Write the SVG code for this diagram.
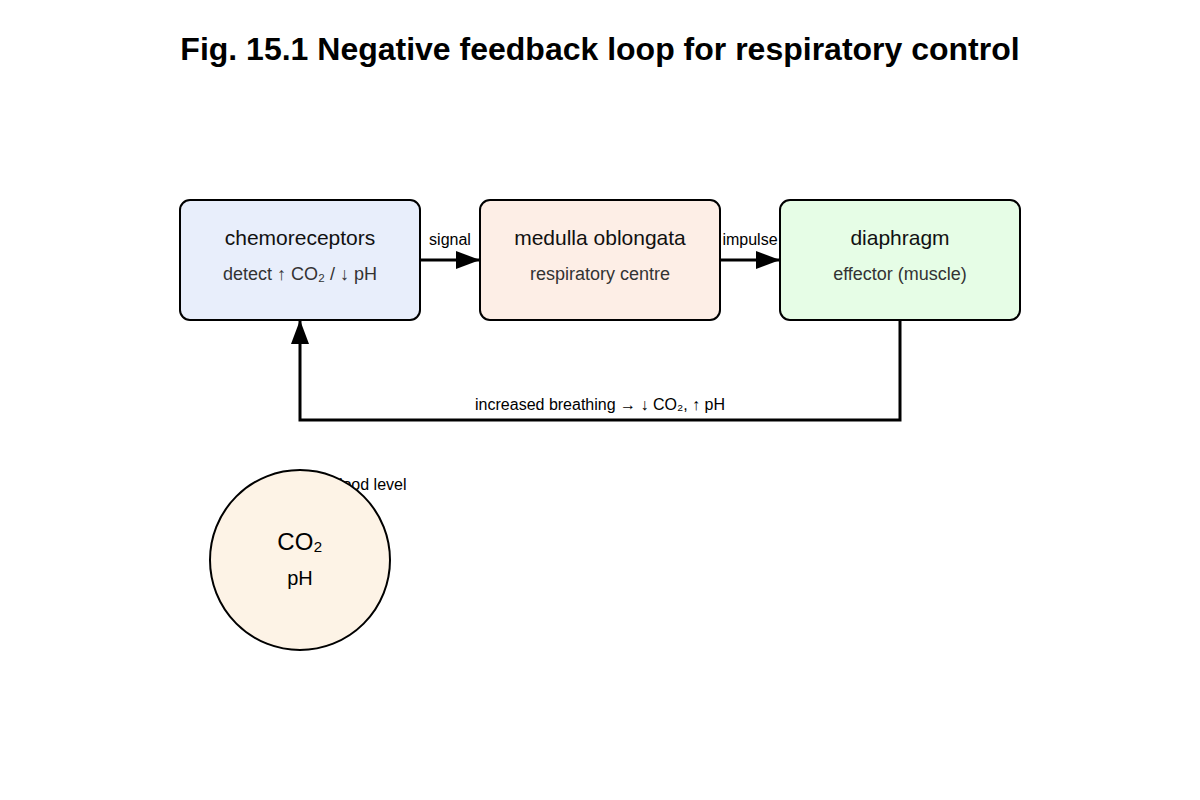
<svg xmlns="http://www.w3.org/2000/svg" width="1200" height="800" viewBox="0 0 1200 800">
<style>
text{font-family:"Liberation Sans",Arial,sans-serif;text-anchor:middle}
.box{stroke:#000;stroke-width:2}
.t{font-size:21px;fill:#111}
.s{font-size:18px;fill:#333}
.l{font-size:16px;fill:#000}
.c{stroke:#000;stroke-width:3;fill:none}
</style>
<defs><marker id="a" markerWidth="10" markerHeight="8" refX="9" refY="4" orient="auto" markerUnits="userSpaceOnUse" viewBox="0 0 10 8"><path d="M0,0L10,4L0,8z"/></marker>
<marker id="b" markerWidth="24" markerHeight="18" refX="24" refY="9" orient="auto" markerUnits="userSpaceOnUse"><path d="M0,0L24,9L0,18z"/></marker></defs>
<rect width="1200" height="800" fill="#fff"/>
<text x="600" y="60" font-size="32" font-weight="bold">Fig. 15.1 Negative feedback loop for respiratory control</text>
<g id="connectors">
<path class="c" d="M420,260H480" marker-end="url(#b)"/>
<path class="c" d="M720,260H780" marker-end="url(#b)"/>
<path class="c" d="M900,320V420H300V320" marker-end="url(#b)"/>
<path class="c" d="M300,470V500" marker-end="url(#b)"/>
<text class="l" x="450" y="245">signal</text>
<text class="l" x="750" y="245">impulse</text>
<text class="l" x="600" y="410" font-size="18">increased breathing → ↓ CO₂, ↑ pH</text>
<text class="l" x="330" y="490" style="text-anchor:start">blood level</text>
</g>
<g id="chemo"><rect class="box" x="180" y="200" width="240" height="120" rx="10" fill="#e8eefb"/>
<text class="t" x="300" y="245">chemoreceptors</text><text class="s" x="300" y="280">detect ↑ CO₂ / ↓ pH</text></g>
<g id="medulla"><rect class="box" x="480" y="200" width="240" height="120" rx="10" fill="#fdeee6"/>
<text class="t" x="600" y="245">medulla oblongata</text><text class="s" x="600" y="280">respiratory centre</text></g>
<g id="diaphragm"><rect class="box" x="780" y="200" width="240" height="120" rx="10" fill="#e6fde6"/>
<text class="t" x="900" y="245">diaphragm</text><text class="s" x="900" y="280">effector (muscle)</text></g>
<g id="blood"><circle class="box" cx="300" cy="560" r="90" fill="#fdf3e6"/>
<text x="300" y="550" font-size="24">CO₂</text><text x="300" y="585" font-size="20">pH</text></g>
</svg>
